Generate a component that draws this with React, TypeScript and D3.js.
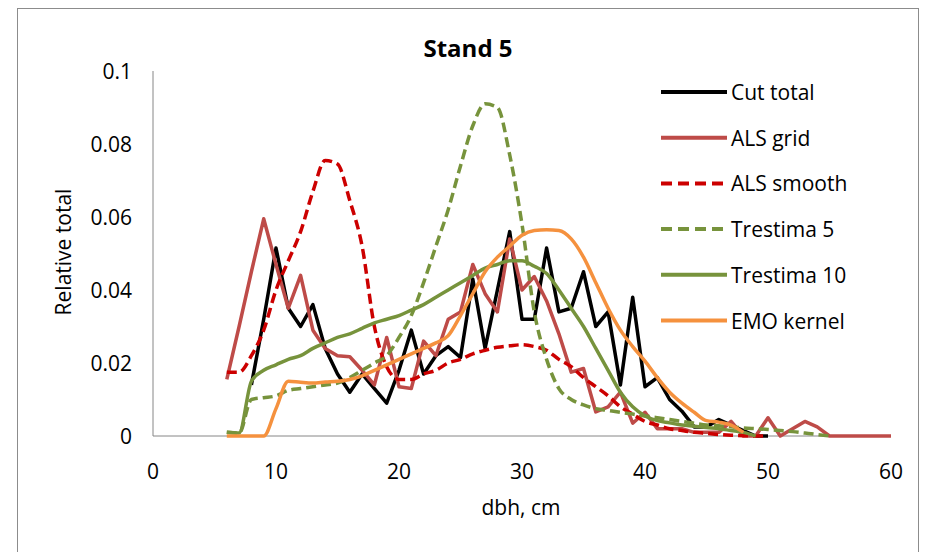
import * as d3 from 'd3';

// dbh classes, cm
const dbh = [
  6, 7, 8, 9, 10, 11, 12, 13, 14, 15, 16, 17, 18, 19, 20, 21, 22, 23, 24, 25,
  26, 27, 28, 29, 30, 31, 32, 33, 34, 35, 36, 37, 38, 39, 40, 41, 42, 43, 44, 45,
  46, 47, 48, 49, 50, 51, 52, 53, 54, 55, 56, 57, 58, 59, 60,
];

const cutTotal = [
  null, null, 0.014, 0.032, 0.0515, 0.035, 0.03, 0.036, 0.024, 0.017,
  0.012, 0.017, 0.013, 0.009, 0.018, 0.029, 0.017, 0.022, 0.0245, 0.0215,
  0.043, 0.024, 0.04, 0.056, 0.032, 0.032, 0.0515, 0.034, 0.035, 0.045,
  0.03, 0.034, 0.014, 0.038, 0.0135, 0.016, 0.01, 0.0068, 0.0025, 0.0025,
  0.0045, 0.003, 0.0015, 0, 0, null, null, null, null, null,
  null, null, null, null, null,
];

const alsGrid = [
  0.0155, 0.03, 0.045, 0.0595, 0.047, 0.035, 0.044, 0.029, 0.024, 0.022,
  0.0217, 0.018, 0.014, 0.027, 0.0135, 0.013, 0.026, 0.022, 0.032, 0.034,
  0.047, 0.039, 0.034, 0.054, 0.04, 0.0437, 0.037, 0.028, 0.0175, 0.0185,
  0.0066, 0.008, 0.012, 0.0035, 0.0065, 0.002, 0.002, 0.002, 0.001, 0.001,
  0.001, 0.004, 0, 0, 0.005, 0, 0.002, 0.004, 0.0025, 0,
  0, 0, 0, 0, 0,
];

const alsSmooth = [
  0.0175, 0.0175, 0.022, 0.029, 0.04, 0.048, 0.056, 0.067, 0.0755, 0.0745,
  0.0645, 0.052, 0.03, 0.019, 0.0155, 0.0155, 0.017, 0.018, 0.02, 0.021,
  0.0225, 0.0235, 0.0243, 0.0247, 0.025, 0.0245, 0.0235, 0.021, 0.019, 0.016,
  0.0135, 0.011, 0.008, 0.006, 0.004, 0.003, 0.002, 0.0015, 0.001, 0.0007,
  0.0004, 0.0002, 0.0001, 0, 0, null, null, null, null, null,
  null, null, null, null, null,
];

const trestima5 = [
  0.001, 0.0008, 0.01, 0.0105, 0.011, 0.0125, 0.013, 0.0135, 0.014, 0.0145,
  0.016, 0.018, 0.02, 0.022, 0.027, 0.033, 0.042, 0.052, 0.062, 0.074,
  0.085, 0.091, 0.09, 0.077, 0.058, 0.034, 0.021, 0.013, 0.01, 0.0085,
  0.0075, 0.007, 0.0065, 0.006, 0.0055, 0.005, 0.0045, 0.004, 0.0035, 0.003,
  0.0028, 0.0025, 0.0022, 0.002, 0.0018, 0.0015, 0.0012, 0.0008, 0.0004, 0,
  null, null, null, null, null,
];

const trestima10 = [
  0.001, 0.0008, 0.015, 0.018, 0.0195, 0.021, 0.022, 0.024, 0.0255, 0.027,
  0.028, 0.0295, 0.031, 0.032, 0.033, 0.0345, 0.036, 0.038, 0.04, 0.042,
  0.044, 0.046, 0.047, 0.048, 0.048, 0.0465, 0.0445, 0.04, 0.035, 0.03,
  0.024, 0.018, 0.012, 0.008, 0.0055, 0.0042, 0.0036, 0.003, 0.0027, 0.0023,
  0.002, 0.0015, 0.001, 0, null, null, null, null, null, null,
  null, null, null, null, null,
];

const emoKernel = [
  0, 0, 0, 0, 0.0075, 0.015, 0.0147, 0.0145, 0.0148, 0.015,
  0.0155, 0.0165, 0.018, 0.0195, 0.021, 0.0225, 0.024, 0.0255, 0.0275, 0.033,
  0.039, 0.045, 0.049, 0.052, 0.055, 0.0563, 0.0565, 0.0563, 0.054, 0.049,
  0.042, 0.035, 0.029, 0.0245, 0.0205, 0.016, 0.012, 0.009, 0.0065, 0.0042,
  0.0038, 0.003, 0.001, null, null, null, null, null, null, null,
  null, null, null, null, null,
];

const seriesNames = ['Cut total', 'ALS grid', 'ALS smooth', 'Trestima 5', 'Trestima 10', 'EMO kernel'];
const seriesValues = [cutTotal, alsGrid, alsSmooth, trestima5, trestima10, emoKernel];
const seriesColors = ['#000000', '#BE4B48', '#CC0000', '#77933C', '#77933C', '#F5913E'];
const seriesDashed = [false, false, true, true, false, false];
const seriesSmooth = [false, false, true, true, true, true];

const xTicks = [0, 10, 20, 30, 40, 50, 60];
const yTicks = [0, 0.02, 0.04, 0.06, 0.08, 0.1];
const yTickLabels = ['0', '0.02', '0.04', '0.06', '0.08', '0.1'];

const FONT = '"Open Sans", "Liberation Sans", sans-serif';

export default function App() {
  const x = d3.scaleLinear().domain([0, 60]).range([153, 891]);
  const y = d3.scaleLinear().domain([0, 0.1]).range([436, 71]);

  const makeLine = (smooth: boolean) =>
    d3.line<[number, number | null]>()
      .defined(d => d[1] !== null)
      .x(d => x(d[0]))
      .y(d => y(d[1] as number))
      .curve(smooth ? d3.curveMonotoneX : d3.curveLinear);

  return (
    <svg
      width={926}
      height={552}
      style={{ position: 'absolute', left: 0, top: 0, background: '#fff' }}
      fontFamily={FONT}
    >
      <rect x={17.5} y={8.5} width={901} height={560} fill="#fff" stroke="#8c8c8c" strokeWidth={1} />

      <text x={468} y={57} textAnchor="middle" fontSize={24} fontWeight="bold" fill="#000">
        Stand 5
      </text>

      {/* axes */}
      <line x1={x(0)} x2={x(0)} y1={y(0.1)} y2={y(0)} stroke="#868686" strokeWidth={1} />
      <line x1={x(0)} x2={x(60)} y1={y(0)} y2={y(0)} stroke="#868686" strokeWidth={1} />

      {yTicks.map((t, i) => (
        <text key={t} x={132} y={y(t) + 8} textAnchor="end" fontSize={21} fill="#000">
          {yTickLabels[i]}
        </text>
      ))}
      {xTicks.map(t => (
        <text key={t} x={x(t)} y={479} textAnchor="middle" fontSize={21} fill="#000">
          {t}
        </text>
      ))}

      <text x={521} y={515} textAnchor="middle" fontSize={21} fill="#000">dbh, cm</text>
      <text
        transform={`translate(71,252) rotate(-90)`}
        textAnchor="middle"
        fontSize={21}
        fill="#000"
      >
        Relative total
      </text>

      {/* series */}
      {seriesValues.map((vals, i) => {
        const pts = dbh.map((d, j) => [d, vals[j]] as [number, number | null]);
        return (
          <path
            key={seriesNames[i]}
            d={makeLine(seriesSmooth[i])(pts) || ''}
            fill="none"
            stroke={seriesColors[i]}
            strokeWidth={3.5}
            strokeLinejoin="round"
            strokeDasharray={seriesDashed[i] ? '10,5' : undefined}
          />
        );
      })}

      {/* legend */}
      {seriesNames.map((name, i) => {
        const ly = 92 + i * 45.7;
        return (
          <g key={name}>
            <line
              x1={661}
              x2={727}
              y1={ly}
              y2={ly}
              stroke={seriesColors[i]}
              strokeWidth={4}
              strokeDasharray={seriesDashed[i] ? '11,6' : undefined}
            />
            <text x={731} y={ly + 8} fontSize={21} fill="#000">{name}</text>
          </g>
        );
      })}
    </svg>
  );
}
